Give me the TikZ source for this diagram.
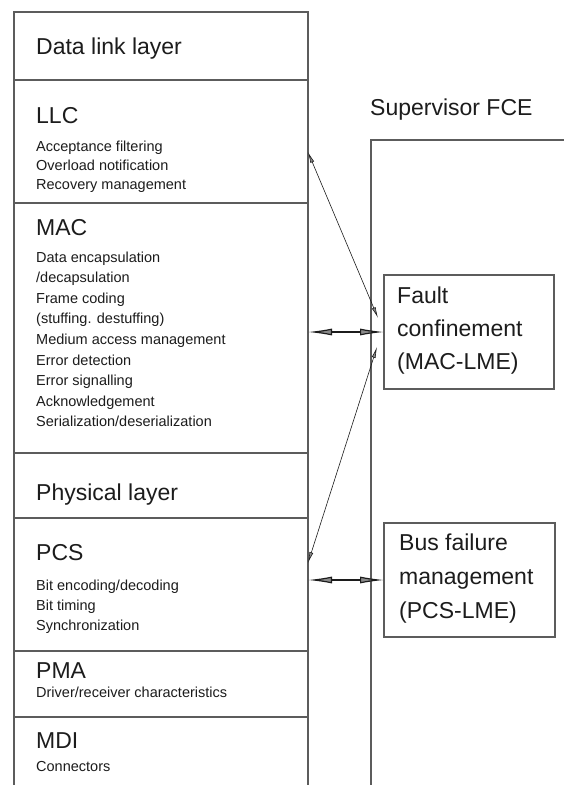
\documentclass[tikz,border=0pt]{standalone}
\usepackage{fontspec}
\setmainfont{Liberation Sans}
\usetikzlibrary{arrows.meta}
\definecolor{linegray}{HTML}{5C5C5C}
\definecolor{ink}{HTML}{1C1C1C}
\definecolor{headfill}{HTML}{8A8A8A}
\begin{document}
\begin{tikzpicture}[x=1pt,y=-1pt,
  frame/.style={draw=linegray, line width=1.3pt, rectangle, inner sep=0pt, outer sep=0pt, anchor=north west},
  head/.style={font=\fontsize{23}{27}\selectfont, anchor=base west, inner sep=0pt, text=ink},
  item/.style={font=\fontsize{14.5}{17}\selectfont, anchor=base west, inner sep=0pt, text=ink},
  bigarrow/.style={draw=ink, line width=1.2pt, {Latex[length=24pt,width=7pt,fill=headfill]}-{Latex[length=24pt,width=7pt,fill=headfill]}},
  thinarrow/.style={draw=ink, line width=0.6pt, {Latex[length=11pt,width=4pt,fill=headfill]}-{Latex[length=11pt,width=4pt,fill=headfill]}}
]
\useasboundingbox (0,0) rectangle (564,785);
\fill[white] (0,0) rectangle (564,785);

% left column sections
\node[frame, minimum width=294pt, minimum height=68pt]  (dll) at (14,12) {};
\node[frame, minimum width=294pt, minimum height=123pt] (llc) at (14,80) {};
\node[frame, minimum width=294pt, minimum height=250pt] (mac) at (14,203) {};
\node[frame, minimum width=294pt, minimum height=65pt]  (phy) at (14,453) {};
\node[frame, minimum width=294pt, minimum height=133pt] (pcs) at (14,518) {};
\node[frame, minimum width=294pt, minimum height=66pt]  (pma) at (14,651) {};
\node[frame, minimum width=294pt, minimum height=80pt]  (mdi) at (14,717) {};

% texts left
\node[head] (tdll) at (36,54) {Data link layer};
\node[head] (tllc) at (36,123) {LLC};
\node[item] (l1) at (36,151) {Acceptance filtering};
\node[item] (l2) at (36,170) {Overload notification};
\node[item] (l3) at (36,189) {Recovery management};
\node[head] (tmac) at (36,235) {MAC};
\node[item] (m1) at (36,262.0) {Data encapsulation};
\node[item] (m2) at (36,282.6) {/decapsulation};
\node[item] (m3) at (36,303.2) {Frame coding};
\node[item] (m4) at (36,323.8) {(stuffing. destuffing)};
\node[item] (m5) at (36,344.4) {Medium access management};
\node[item] (m6) at (36,365.0) {Error detection};
\node[item] (m7) at (36,385.6) {Error signalling};
\node[item] (m8) at (36,406.2) {Acknowledgement};
\node[item] (m9) at (36,426.8) {Serialization/deserialization};
\node[head] (tphy) at (36,500) {Physical layer};
\node[head] (tpcs) at (36,560) {PCS};
\node[item] (p1) at (36,590) {Bit encoding/decoding};
\node[item] (p2) at (36,610) {Bit timing};
\node[item] (p3) at (36,630) {Synchronization};
\node[head] (tpma) at (36,678) {PMA};
\node[item] (q1) at (36,697) {Driver/receiver characteristics};
\node[head] (tmdi) at (36,748) {MDI};
\node[item] (r1) at (36,771) {Connectors};

% supervisor
\node[head] (tsup) at (370,115) {Supervisor FCE};
\node[frame, minimum width=230pt, minimum height=660pt] (sup) at (371,140) {};
\node[frame, fill=white, minimum width=170pt, minimum height=114pt] (fault) at (384,275) {};
\node[head] (f1) at (397,303) {Fault};
\node[head] (f2) at (397,336) {confinement};
\node[head] (f3) at (397,369) {(MAC-LME)};
\node[frame, fill=white, minimum width=171pt, minimum height=114pt] (bus) at (384,523) {};
\node[head] (b1) at (399,550) {Bus failure};
\node[head] (b2) at (399,584) {management};
\node[head] (b3) at (399,618) {(PCS-LME)};

% connectors
\coordinate (llcend) at (308,152);
\coordinate (faultup) at (378,318);
\coordinate (faultlow) at (377,347);
\coordinate (pcsend) at (308,563);
\draw[thinarrow] (llcend) -- (faultup);
\draw[thinarrow] (faultlow) -- (pcsend);
\draw[bigarrow] (mac.east |- fault.west) -- (fault.west);
\draw[bigarrow] (pcs.east |- bus.west) -- (bus.west);
\end{tikzpicture}
\end{document}
